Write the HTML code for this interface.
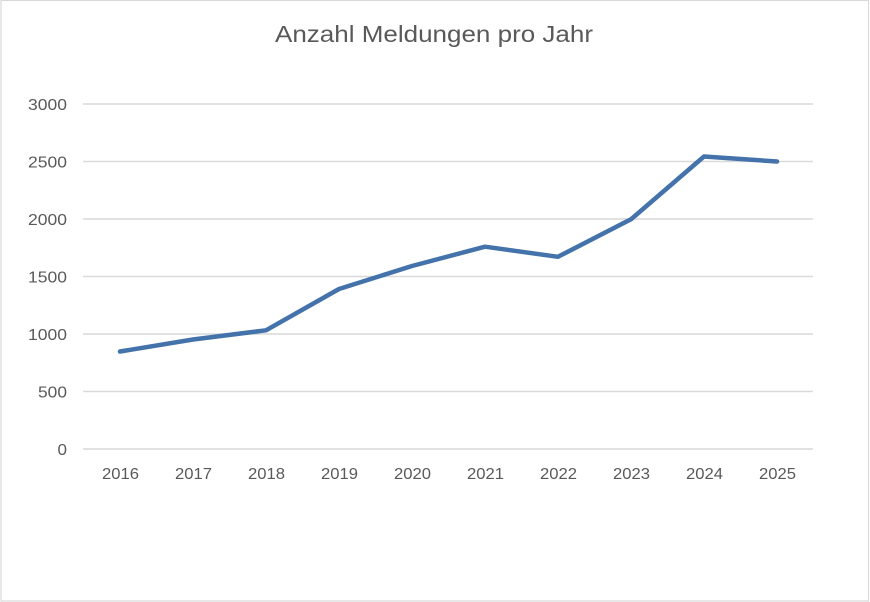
<!DOCTYPE html>
<html><head><meta charset="utf-8"><style>
html,body{margin:0;padding:0;background:#fff;}
svg{display:block;}
</style></head><body>
<svg width="870" height="602" viewBox="0 0 870 602" xmlns="http://www.w3.org/2000/svg">
<rect x="0" y="0" width="870" height="602" fill="#fff"/>
<rect x="1" y="0.5" width="867.5" height="600.5" fill="none" stroke="#d9d9d9" stroke-width="1.2"/>
<text x="434" y="42" text-anchor="middle" font-family="Liberation Sans, sans-serif" font-size="23.5" fill="#595959" textLength="318" lengthAdjust="spacingAndGlyphs">Anzahl Meldungen pro Jahr</text>
<g stroke="#d9d9d9" stroke-width="1.5">
<line x1="83" y1="104" x2="813" y2="104"/>
<line x1="83" y1="161.5" x2="813" y2="161.5"/>
<line x1="83" y1="219" x2="813" y2="219"/>
<line x1="83" y1="276.5" x2="813" y2="276.5"/>
<line x1="83" y1="334" x2="813" y2="334"/>
<line x1="83" y1="391.5" x2="813" y2="391.5"/>
<line x1="83" y1="449" x2="813" y2="449"/>
</g>
<g font-family="Liberation Sans, sans-serif" font-size="16" fill="#595959">
<text x="28" y="110" textLength="39" lengthAdjust="spacingAndGlyphs">3000</text>
<text x="28" y="167.5" textLength="39" lengthAdjust="spacingAndGlyphs">2500</text>
<text x="28" y="225" textLength="39" lengthAdjust="spacingAndGlyphs">2000</text>
<text x="28" y="282.5" textLength="39" lengthAdjust="spacingAndGlyphs">1500</text>
<text x="28" y="340" textLength="39" lengthAdjust="spacingAndGlyphs">1000</text>
<text x="38" y="397.5" textLength="29" lengthAdjust="spacingAndGlyphs">500</text>
<text x="57.5" y="455" textLength="9.5" lengthAdjust="spacingAndGlyphs">0</text>
</g>
<g font-family="Liberation Sans, sans-serif" font-size="16" fill="#595959">
<text x="102" y="479" textLength="37" lengthAdjust="spacingAndGlyphs">2016</text>
<text x="175" y="479" textLength="37" lengthAdjust="spacingAndGlyphs">2017</text>
<text x="248" y="479" textLength="37" lengthAdjust="spacingAndGlyphs">2018</text>
<text x="321" y="479" textLength="37" lengthAdjust="spacingAndGlyphs">2019</text>
<text x="394" y="479" textLength="37" lengthAdjust="spacingAndGlyphs">2020</text>
<text x="467" y="479" textLength="37" lengthAdjust="spacingAndGlyphs">2021</text>
<text x="540" y="479" textLength="37" lengthAdjust="spacingAndGlyphs">2022</text>
<text x="613" y="479" textLength="37" lengthAdjust="spacingAndGlyphs">2023</text>
<text x="686" y="479" textLength="37" lengthAdjust="spacingAndGlyphs">2024</text>
<text x="759" y="479" textLength="37" lengthAdjust="spacingAndGlyphs">2025</text>
</g>
<polyline fill="none" stroke="#4472ab" stroke-width="4.5" stroke-linejoin="round" stroke-linecap="round"
points="120,351.5 193,339.5 266,330.3 339,289 412,266 485,246.7 558,256.8 631,219.3 704,156.5 777,161.5"/>
</svg>
</body></html>
